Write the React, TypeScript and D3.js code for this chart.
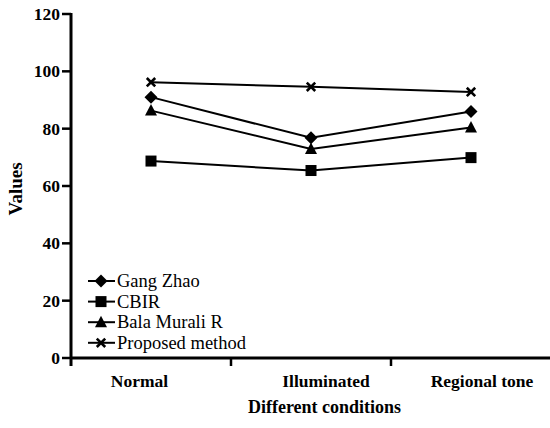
import React from "react";
import * as d3 from "d3";

const categories = ["Normal", "Illuminated", "Regional tone"];
const seriesNames = ["Gang Zhao", "CBIR", "Bala Murali R", "Proposed method"];
const gangZhao = [91, 76.8, 86];
const cbir = [68.7, 65.4, 69.9];
const balaMurali = [86.3, 72.9, 80.4];
const proposed = [96.2, 94.6, 92.8];
const yTicks = [0, 20, 40, 60, 80, 100, 120];

const allSeries = [gangZhao, cbir, balaMurali, proposed];
const symbols = ["diamond", "square", "triangle", "cross"];

const W = 550;
const H = 428;
const left = 71;
const top = 14;
const bottom = 358;
const right = 551;

const font = "Liberation Serif";

function Marker({ kind, x, y }: { kind: string; x: number; y: number }) {
    if (kind === "diamond") {
        const r = 6.5;
        return <path d={`M${x},${y - r}L${x + r},${y}L${x},${y + r}L${x - r},${y}Z`} fill="#000" />;
    }
    if (kind === "square") {
        return <rect x={x - 5.5} y={y - 5.5} width={11} height={11} fill="#000" />;
    }
    if (kind === "triangle") {
        return <path d={`M${x},${y - 6.5}L${x + 6},${y + 5}L${x - 6},${y + 5}Z`} fill="#000" />;
    }
    const s = 4.2;
    return (
        <path d={`M${x - s},${y - s}L${x + s},${y + s}M${x - s},${y + s}L${x + s},${y - s}`}
            stroke="#000" strokeWidth={2.6} fill="none" />
    );
}

export default function App() {
    const x = d3.scaleBand().domain(categories).range([left, right]);
    const y = d3.scaleLinear().domain([0, 120]).range([bottom, top]);
    const cx = (c: string) => (x(c) as number) + x.bandwidth() / 2;

    const line = d3.line<number>()
        .x((_, i) => cx(categories[i]))
        .y(d => y(d));

    const ts = (size: number, weight = "bold") => ({ fontFamily: font, fontSize: size, fontWeight: weight });

    return (
        <svg width={W} height={H} style={{ position: "absolute", left: 0, top: 0 }}>
            {/* y axis */}
            <line x1={left} x2={left} y1={top - 1} y2={bottom + 8} stroke="#000" strokeWidth={3} />
            {yTicks.map(t => (
                <g key={t}>
                    <line x1={left - 9} x2={left} y1={y(t)} y2={y(t)} stroke="#000" strokeWidth={2.5} />
                    <text x={left - 11} y={y(t)} dy="0.35em" textAnchor="end" style={ts(17.5)}>{t}</text>
                </g>
            ))}
            {/* x axis */}
            <line x1={left} x2={W} y1={bottom} y2={bottom} stroke="#000" strokeWidth={3} />
            {categories.slice(1).map(c => (
                <line key={c} x1={x(c) as number} x2={x(c) as number} y1={bottom} y2={bottom + 8} stroke="#000" strokeWidth={2.5} />
            ))}
            {categories.map((c, i) => (
                <text key={c} x={cx(c) + [-11.5, 15, 11][i]} y={387} textAnchor="middle" style={ts(17.5)}>{c}</text>
            ))}
            <text x={324.5} y={413} textAnchor="middle" style={ts(18)}>Different conditions</text>
            <text transform={`translate(22,189) rotate(-90)`} textAnchor="middle" style={ts(19)}>Values</text>

            {/* lines */}
            {allSeries.map((s, i) => (
                <g key={seriesNames[i]}>
                    <path d={line(s) || ""} fill="none" stroke="#000" strokeWidth={2} />
                    {s.map((v, j) => (
                        <Marker key={j} kind={symbols[i]} x={cx(categories[j])} y={y(v)} />
                    ))}
                </g>
            ))}

            {/* legend */}
            {seriesNames.map((n, i) => {
                const ly = 281 + i * 20.6;
                return (
                    <g key={n}>
                        <line x1={88} x2={115} y1={ly} y2={ly} stroke="#000" strokeWidth={2} />
                        <Marker kind={symbols[i]} x={101} y={ly} />
                        <text x={117} y={ly} dy="0.33em" style={ts(18.5, "normal")}>{n}</text>
                    </g>
                );
            })}
        </svg>
    );
}
